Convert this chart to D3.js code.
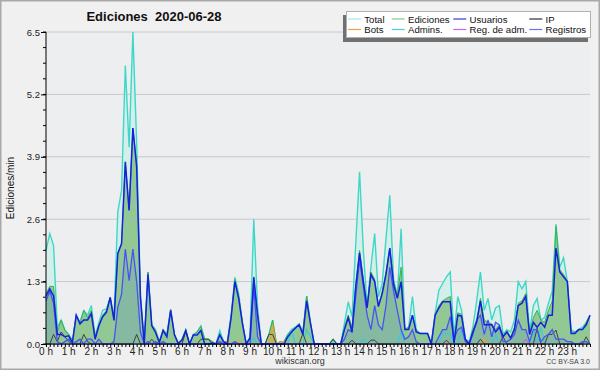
<!DOCTYPE html>
<html><head><meta charset="utf-8">
<script src="https://cdn.jsdelivr.net/npm/d3@7"></script>
<style>
html,body{margin:0;padding:0;background:#f0f0f0;}
svg{display:block;}
text{font-family:"Liberation Sans",Arial,sans-serif;}
</style></head>
<body>
<svg id="c" width="600" height="370"></svg>
<script>
const title = "Ediciones  2020-06-28";
const yLabel = "Ediciones/min";
const yTicks = [0, 1.3, 2.6, 3.9, 5.2, 6.5];
const hourLabels = d3.range(24).map(h => h + " h");
const seriesNames = ["Total","Ediciones","Usuarios","IP","Bots","Admins.","Reg. de adm.","Registros"];

// values per 10 minutes, index 0..144
const total = [1.95,2.3,2.05,0.35,0.5,0.3,0.2,0.07,0.6,0.45,0.7,0.6,0.8,0.17,0.45,0.7,0.73,0.97,0.55,2.75,
3.2,5.8,4.1,6.5,4.2,1.0,0.05,1.5,0.4,0.3,0.05,0.3,0.2,0.72,0.2,0.02,0.1,0.3,0,0.2,
0.25,0.38,0.1,0.1,0.05,0,0.28,0.05,0.05,0.6,1.39,1.05,0.45,0,0.15,2.6,0.78,0,0,0.2,
0.5,0,0.05,0.05,0.2,0.3,0.35,0.42,0.25,1.0,0.45,0,0,0,0,0,0.1,0,0,0.43,
0.88,0.57,2.1,3.59,1.96,0.78,1.6,2.3,0.99,1.26,2.2,3.1,1.35,1.0,2.4,0.3,0.35,0.99,0.3,0.22,
0.22,0.22,0,0.64,1.12,1.26,1.4,1.5,0.15,0.99,0.7,0.1,0.05,0.35,0.9,1.5,0.7,0.95,0.5,0.75,
0.8,0.2,0.3,0.25,0.5,1.3,1.15,1.3,0.25,0.8,0.95,0.5,0.55,0.85,1.1,2.5,1.6,1.8,1.3,0.3,
0.25,0.3,0.35,0.45,0.6];
const ediciones = [1.05,1.2,1.2,0.25,0.5,0.28,0.2,0.07,0.6,0.45,0.7,0.55,0.7,0.15,0.4,0.6,0.7,0.97,0.5,1.9,
2.1,3.8,2.8,4.5,3.75,1.0,0.05,1.5,0.4,0.28,0.05,0.3,0.2,0.72,0.2,0.02,0.1,0.3,0,0.2,
0.25,0.37,0.1,0.1,0.05,0,0.22,0.05,0.05,0.58,1.35,1.0,0.45,0,0.15,1.4,0.64,0,0,0.2,
0.5,0,0.05,0.05,0.2,0.28,0.33,0.42,0.25,1.0,0.45,0,0,0,0,0,0.1,0,0,0.35,
0.6,0.35,1.25,1.95,1.35,0.78,1.5,1.35,0.8,1.1,1.5,2.0,1.3,1.0,1.6,0.3,0.35,0.6,0.28,0.22,
0.22,0.22,0,0.62,0.8,0.9,0.95,0.99,0.05,0.65,0.62,0.1,0,0.3,0.5,0.95,0.5,0.45,0.42,0.3,
0.4,0.18,0.28,0.15,0.35,0.85,0.9,1.05,0.22,0.55,0.7,0.5,0.45,0.7,0.9,2.45,1.55,1.45,1.3,0.25,
0.25,0.3,0.3,0.45,0.6];
const usuarios = [1.0,1.15,1.0,0.2,0.2,0.15,0.17,0.03,0.6,0.42,0.5,0.5,0.63,0.1,0.38,0.57,0.66,0.97,0.49,1.88,
2.09,3.79,2.78,4.5,3.69,0.97,0,1.45,0.38,0.24,0.03,0.28,0.15,0.7,0.19,0.01,0.08,0.28,0,0.19,
0.19,0.28,0,0,0.02,0,0.19,0.05,0,0.55,1.3,0.95,0.42,0,0.12,1.39,0.6,0,0,0,
0,0,0,0,0.15,0.25,0.33,0.4,0.2,0.9,0.43,0,0,0,0,0,0,0,0,0.3,
0.55,0.25,1.2,1.9,1.3,0.75,1.45,1.3,0.78,1.05,1.45,2.0,1.25,0.95,1.3,0.3,0.3,0.6,0.25,0.22,
0.22,0.22,0,0.6,0.75,0.88,0.88,0.88,0.02,0.6,0.58,0.1,0,0.25,0.45,0.9,0.4,0.4,0.4,0.25,
0.35,0.15,0.25,0.12,0.3,0.8,0.85,0.99,0.2,0.45,0.35,0.45,0.35,0.6,0.6,2.0,1.5,1.4,1.3,0.22,
0.22,0.3,0.3,0.4,0.6];
const ip = [0,0,0.2,0.05,0.25,0.15,0.05,0,0,0,0.2,0.05,0,0,0,0,0,0,0,0,
0,0,0,0,0.2,0,0,0,0.1,0,0,0,0,0,0,0,0,0.26,0,0,
0,0.1,0.1,0.1,0,0,0,0,0,0,0,0,0,0,0,0,0,0,0,0.2,
0.2,0,0,0,0,0,0,0,0.22,0,0,0,0,0,0,0,0.1,0,0,0,
0,0.08,0,0,0,0,0.08,0.08,0,0,0,0,0,0,0,0,0,0,0,0,
0,0,0,0,0,0,0.08,0,0,0,0,0,0,0,0,0.1,0,0,0,0,
0,0.15,0,0,0,0,0,0,0,0,0.33,0,0,0.2,0.2,0.29,0,0,0,0,
0,0,0,0.15,0];
const bots = [0,0,0,0,0,0,0,0,0,0,0,0,0,0,0,0,0,0,0,0,
0,0,0,0,0,0,0,0,0,0,0,0,0,0,0,0,0,0,0,0,
0,0,0,0,0,0,0,0,0.08,0,0,0.08,0,0,0,0,0,0,0,0,
0.4,0,0.05,0.05,0,0,0,0,0,0,0,0,0,0,0,0,0,0,0,0,
0,0,0,0,0,0,0,0,0,0,0,0,0,0,0,0,0,0,0,0,
0,0,0,0,0,0,0,0,0,0,0,0,0,0,0,0,0.12,0,0,0,
0,0,0,0,0,0,0,0,0,0,0,0,0,0,0,0,0,0,0,0,
0,0,0,0,0];
const admins = [0,0,0,0,0,0,0,0,0,0,0,0,0,0,0,0,0,0,0,0,
0,0,0,0,0,0,0,0,0,0,0,0,0,0,0,0,0,0,0,0,
0,0,0,0,0,0,0.22,0,0,0,0,0,0,0,0,0.12,0,0,0,0,
0,0,0,0,0,0.28,0,0,0,0.3,0.15,0,0,0,0,0,0,0,0,0,
0,0,0,0,0.1,0,0,0,0,0,0,0,0,0,0.26,0,0,0,0,0,
0,0,0,0,0,0.22,0.22,0.2,0,0,0.3,0.1,0,0,0,0,0,0,0,0.2,
0,0,0,0,0,0,0,0,0,0.3,0,0.35,0,0,0,0,0,0,0,0,
0,0,0,0,0];
const regAdm = [0,0,0,0,0,0,0,0,0,0,0,0,0,0,0,0,0,0,0,0,
0,0,0,0,0,0,0,0,0,0,0,0,0,0,0,0,0,0,0,0,
0,0,0,0,0,0,0,0,0,0,0,0,0,0,0,0,0,0,0,0,
0,0,0,0,0,0,0,0,0,0,0,0,0,0,0,0,0,0,0,0,
0,0,0,0,0,0,0,0,0,0,0,0,0,0,0,0,0,0,0,0,
0,0,0,0,0,0,0,0,0,0,0,0,0,0,0,0,0,0,0,0,
0,0,0,0,0,0,0,0.1,0,0,0,0,0,0,0,0,0,0,0,0,
0,0,0,0,0];
const registros = [0.9,1.1,0.85,0.05,0,0.05,0.1,0,0.05,0.1,0,0.1,0.1,0,0.1,0,0,0,0.05,0.76,
1.04,1.98,1.32,1.98,1.3,0.25,0,0.05,0,0.05,0,0.05,0,0,0,0,0,0,0,0,
0,0,0,0,0,0,0.05,0,0,0,0.05,0,0,0,0,1.2,0.15,0,0,0,
0,0,0,0,0,0,0,0,0,0,0,0,0,0,0,0,0,0,0,0.1,
0.3,0.25,1.0,1.75,1.2,0.6,0.3,0.8,0.4,0.3,0.8,1.6,1.1,0.7,0.3,0.1,0.15,0.3,0.05,0,
0,0,0,0,0.15,0.3,0.3,0.57,0.1,0.3,0.35,0.05,0,0.2,0.5,0.6,0.2,0.5,0.15,0.45,
0.4,0.05,0.05,0.1,0.2,0.5,0.3,0.3,0.05,0.3,0.3,0.05,0.15,0.2,0.3,0.1,0.1,0.1,0.05,0.05,
0,0,0.05,0.05,0];

const colors = {
  total:"#3ed8c8", ediciones:"#3fb04a", usuarios:"#1620e0", ip:"#404040",
  bots:"#f0a030", admins:"#38c8e0", regAdm:"#d050e0", registros:"#4a52f4"
};
const legendColors = ["#a8e4e0","#80cc88","#3a3ae0","#303030","#f0a040","#50c8e0","#d060e8","#7070f0"];

const svg = d3.select("#c");
const W = 600, H = 370;
svg.append("rect").attr("x",0.5).attr("y",0.5).attr("width",W-1).attr("height",H-1)
  .attr("fill","#f0f0f0").attr("stroke","#a8a8a8").attr("stroke-width",2);

const x = d3.scaleLinear().domain([0,144]).range([46,590]);
const y = d3.scaleLinear().domain([0,6.5]).range([344,32]);

svg.append("rect").attr("x",x(0)).attr("y",y(6.5)).attr("width",x(144)-x(0)).attr("height",y(0)-y(6.5))
  .attr("fill","#edeef0");

svg.append("g").selectAll("line").data(yTicks.filter(d=>d>0)).join("line")
  .attr("x1",x(0)).attr("x2",x(144)).attr("y1",d=>y(d)).attr("y2",d=>y(d))
  .attr("stroke","#c8c8cc").attr("stroke-width",1);

const idx = d3.range(145);
const area = arr => d3.area().x(i=>x(i)).y0(y(0)).y1(i=>y(arr[i]));
const line = arr => d3.line().x(i=>x(i)).y(i=>y(arr[i]));

const g = svg.append("g");
g.append("path").attr("d",area(total)(idx)).attr("fill","#d4eeea");
g.append("path").attr("d",area(ediciones)(idx)).attr("fill","#92c894");
g.append("path").attr("d",area(registros)(idx)).attr("fill","rgba(70,110,230,0.16)");
g.append("path").attr("d",area(bots)(idx)).attr("fill","rgba(240,160,40,0.45)");

g.append("path").attr("d",line(total)(idx)).attr("fill","none").attr("stroke",colors.total).attr("stroke-width",1.4);
g.append("path").attr("d",line(ediciones)(idx)).attr("fill","none").attr("stroke",colors.ediciones).attr("stroke-width",1);
g.append("path").attr("d",line(bots)(idx)).attr("fill","none").attr("stroke",colors.bots).attr("stroke-width",1);
g.append("path").attr("d",line(regAdm)(idx)).attr("fill","none").attr("stroke",colors.regAdm).attr("stroke-width",1);
g.append("path").attr("d",line(admins)(idx)).attr("fill","none").attr("stroke",colors.admins).attr("stroke-width",1.2);
g.append("path").attr("d",line(ip)(idx)).attr("fill","none").attr("stroke",colors.ip).attr("stroke-width",1);
g.append("path").attr("d",line(registros)(idx)).attr("fill","none").attr("stroke",colors.registros).attr("stroke-width",1.3);
g.append("path").attr("d",line(usuarios)(idx)).attr("fill","none").attr("stroke",colors.usuarios).attr("stroke-width",1.5);

const yAxis = d3.axisLeft(y).tickValues(yTicks).tickFormat(d=>d.toFixed(1)).tickSize(5).tickPadding(1);
const ya = svg.append("g").attr("transform",`translate(${x(0)},0)`).call(yAxis);
ya.select(".domain").attr("stroke","#000").attr("d",`M0,${y(0)}V${y(6.5)}`);
ya.selectAll("text").attr("font-size",9.5).attr("fill","#222").attr("font-family","Liberation Sans");
const yMinor = d3.range(0,6.5001,0.325);
svg.append("g").selectAll("line").data(yMinor).join("line")
  .attr("x1",x(0)-3).attr("x2",x(0)).attr("y1",d=>y(d)).attr("y2",d=>y(d)).attr("stroke","#000");

const xAxis = d3.axisBottom(x).tickValues(d3.range(0,145)).tickFormat("").tickSize(3);
const xa = svg.append("g").attr("transform",`translate(0,${y(0)})`).call(xAxis);
xa.select(".domain").attr("stroke","#000").attr("d",`M${x(0)},0H${x(144)}`);
svg.append("g").selectAll("text").data(hourLabels).join("text")
  .attr("x",(d,i)=>x(i*6)).attr("y",355).attr("text-anchor","middle")
  .attr("font-size",10).attr("fill","#222").text(d=>d);

svg.append("text").attr("x",154).attr("y",20.5).attr("text-anchor","middle")
  .attr("font-size",13).attr("font-weight","bold").attr("fill","#111")
  .style("white-space","pre").text(title);

svg.append("text").attr("transform","translate(13.5,188) rotate(-90)").attr("text-anchor","middle")
  .attr("font-family","DejaVu Sans Mono").attr("font-size",10).attr("fill","#111").text(yLabel);

svg.append("text").attr("x",300).attr("y",364).attr("text-anchor","middle")
  .attr("font-size",9).attr("fill","#333").text("wikiscan.org");
svg.append("text").attr("x",590).attr("y",364).attr("text-anchor","end")
  .attr("font-size",7).attr("fill","#444").text("CC BY-SA 3.0");

const lg = svg.append("g");
lg.append("rect").attr("x",343).attr("y",15).attr("width",245).attr("height",27).attr("fill","#707070");
lg.append("rect").attr("x",346.5).attr("y",11.5).attr("width",244).attr("height",26)
  .attr("fill","#fff").attr("stroke","#b0b0b0");
const colX = [348, 391.7, 453.3, 529.3];
seriesNames.forEach((n,i)=>{
  const c = i%4, r = Math.floor(i/4);
  const ly = 19 + r*10.5;
  lg.append("line").attr("x1",colX[c]).attr("x2",colX[c]+13).attr("y1",ly).attr("y2",ly)
    .attr("stroke",legendColors[i]).attr("stroke-width",1.2);
  lg.append("text").attr("x",colX[c]+16.3).attr("y",ly+3.5).attr("font-size",9.6).attr("fill","#111").text(n);
});
</script>
</body></html>
